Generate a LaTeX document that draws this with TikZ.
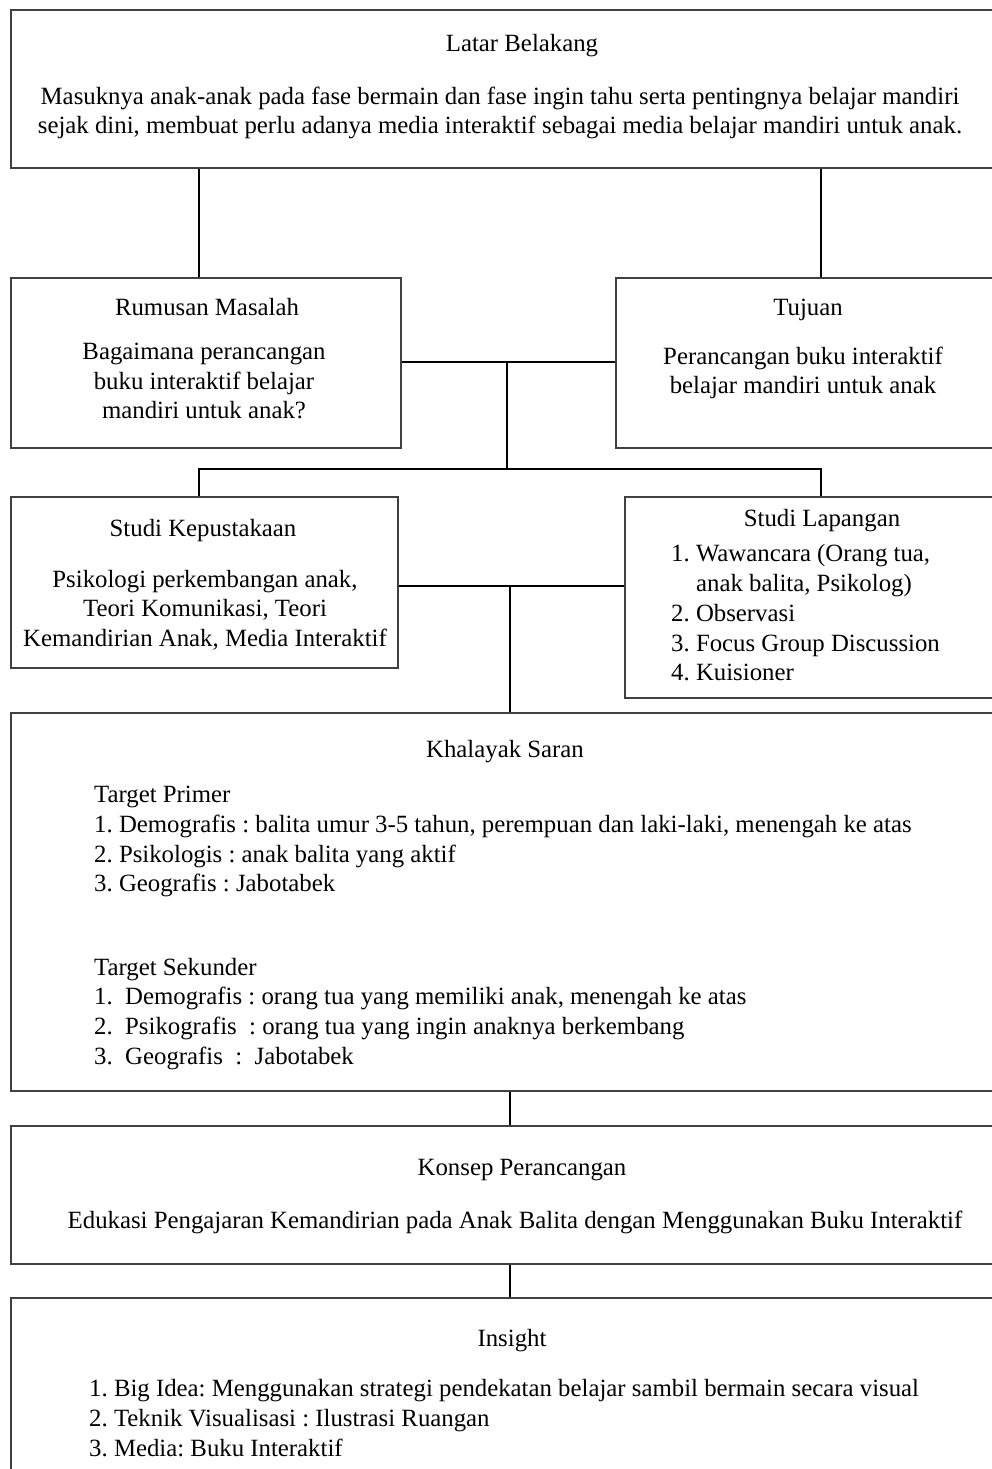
\documentclass[tikz,border=0pt]{standalone}
\usepackage{fontspec}
\setmainfont{Liberation Serif}
\usetikzlibrary{positioning}

\tikzset{
  box/.style={draw=black!75, line width=1.6pt, inner sep=0pt, anchor=north west},
  link/.style={draw=black, line width=1.3pt},
  ttl/.style={inner sep=0pt, anchor=mid, yshift=-5pt},
  body/.style={inner sep=0pt, anchor=center, align=center},
  item/.style={inner sep=0pt, anchor=mid west, yshift=-5pt}
}

\begin{document}
\frenchspacing
\begin{tikzpicture}[x=1pt,y=-1pt,font=\fontsize{24.8}{29.5}\selectfont]
  \useasboundingbox (0,0) rectangle (992,1469);
  \clip (0,0) rectangle (992,1469);

  % boxes
  \node[box, minimum width=995pt, minimum height=158pt] (latar) at (10,9) {};
  \node[box, minimum width=390pt, minimum height=170pt] (rumusan) at (10,277) {};
  \node[box, minimum width=390pt, minimum height=170pt] (tujuan) at (615,277) {};
  \node[box, minimum width=387pt, minimum height=171pt] (kepustakaan) at (10,496) {};
  \node[box, minimum width=380pt, minimum height=201pt] (lapangan) at (624,496) {};
  \node[box, minimum width=995pt, minimum height=378pt] (khalayak) at (10,712) {};
  \node[box, minimum width=995pt, minimum height=138pt] (konsep) at (10,1125) {};
  \node[box, minimum width=995pt, minimum height=200pt] (insight) at (10,1297) {};

  % texts
  \node[ttl] (latarT) at (522,44) {Latar Belakang};
  \node[body] (latarB) at (500,113) {Masuknya anak-anak pada fase bermain dan fase ingin tahu serta pentingnya belajar mandiri\\
    sejak dini, membuat perlu adanya media interaktif sebagai media belajar mandiri untuk anak.};

  \node[ttl] (rumusanT) at (207,308) {Rumusan Masalah};
  \node[body] (rumusanB) at (204,381) {Bagaimana perancangan\\ buku interaktif belajar\\ mandiri untuk anak?};

  \node[ttl] (tujuanT) at (808,308) {Tujuan};
  \node[body] (tujuanB) at (803,373) {Perancangan buku interaktif\\ belajar mandiri untuk anak};

  \node[ttl] (kepustakaanT) at (203,529) {Studi Kepustakaan};
  \node[body] (kepustakaanB) at (205,610) {Psikologi perkembangan anak,\\ Teori Komunikasi, Teori\\ Kemandirian Anak, Media Interaktif};

  \node[ttl] (lapanganT) at (822,519) {Studi Lapangan};
  \node[item] (lap1) at (671,554) {1. Wawancara (Orang tua,};
  \node[item] (lap1b) at (696,584) {anak balita, Psikolog)};
  \node[item] (lap2) at (671,614) {2. Observasi};
  \node[item] (lap3) at (671,644) {3. Focus Group Discussion};
  \node[item] (lap4) at (671,673) {4. Kuisioner};

  \node[ttl] (khalayakT) at (505,750) {Khalayak Saran};
  \node[item] (primer) at (94,795) {Target Primer};
  \node[item] (primer1) at (94,825) {1. Demografis : balita umur 3-5 tahun, perempuan dan laki-laki, menengah ke atas};
  \node[item] (primer2) at (94,855) {2. Psikologis : anak balita yang aktif};
  \node[item] (primer3) at (94,884) {3. Geografis : Jabotabek};
  \node[item] (sekunder) at (94,968) {Target Sekunder};
  \node[item] (sek1) at (94,997) {1.};
  \node[item] (sek1b) at (125,997) {Demografis : orang tua yang memiliki anak, menengah ke atas};
  \node[item] (sek2) at (94,1027) {2.};
  \node[item] (sek2b) at (125,1027) {Psikografis\ \ : orang tua yang ingin anaknya berkembang};
  \node[item] (sek3) at (94,1057) {3.};
  \node[item] (sek3b) at (125,1057) {Geografis\ \ :\ \ Jabotabek};

  \node[ttl] (konsepT) at (522,1168) {Konsep Perancangan};
  \node[ttl] (konsepB) at (515,1221) {Edukasi Pengajaran Kemandirian pada Anak Balita dengan Menggunakan Buku Interaktif};

  \node[ttl] (insightT) at (512,1339) {Insight};
  \node[item] (ins1) at (89,1389) {1. Big Idea: Menggunakan strategi pendekatan belajar sambil bermain secara visual};
  \node[item] (ins2) at (89,1419) {2. Teknik Visualisasi : Ilustrasi Ruangan};
  \node[item] (ins3) at (89,1449) {3. Media: Buku Interaktif};

  % connectors
  \coordinate (splitA) at (507,362);
  \coordinate (splitB) at (507,469);
  \coordinate (splitC) at (510,586);
  \draw[link] (latar.south -| 199,0) -- (rumusan.north -| 199,0);
  \draw[link] (latar.south -| 821,0) -- (tujuan.north -| 821,0);
  \draw[link] (rumusan.east |- splitA) -- (tujuan.west |- splitA);
  \draw[link] (splitA) -- (splitB);
  \draw[link] (kepustakaan.north -| 199,0) |- (splitB) -| (lapangan.north -| 821,0);
  \draw[link] (kepustakaan.east |- splitC) -- (lapangan.west |- splitC);
  \draw[link] (splitC) -- (khalayak.north -| splitC);
  \draw[link] (khalayak.south -| splitC) -- (konsep.north -| splitC);
  \draw[link] (konsep.south -| splitC) -- (insight.north -| splitC);
\end{tikzpicture}
\end{document}
